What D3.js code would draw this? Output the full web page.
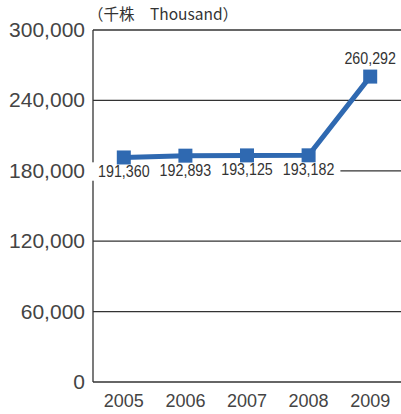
<!doctype html>
<html lang="ja">
<head>
<meta charset="UTF-8">
<title>千株</title>
<style>
    body { margin: 0; background: #fff; }
    svg { display: block; }
    .ytick { font-family: "Liberation Sans", Arial, sans-serif; font-size: 21px; fill: #444; }
    .xtick { font-family: "Liberation Sans", Arial, sans-serif; font-size: 18px; fill: #444; }
    .val { font-family: "Liberation Sans", Arial, sans-serif; font-size: 17px; fill: #333; }
    .unit { font-family: "Noto Sans CJK JP", sans-serif; font-size: 15.5px; fill: #333; }
</style>
</head>
<body>
<svg width="401" height="414"></svg>
<script src="https://cdn.jsdelivr.net/npm/d3@7/dist/d3.min.js"></script>
<script>
const years = ["2005", "2006", "2007", "2008", "2009"];
const shares = [191360, 192893, 193125, 193182, 260292];
const yTicks = [0, 60000, 120000, 180000, 240000, 300000];
const unitLabel = "（千株　Thousand）";

const svg = d3.select("svg"),
    margin = {top: 30, right: 0, bottom: 32, left: 93},
    width = +svg.attr("width") - margin.left - margin.right,
    height = +svg.attr("height") - margin.top - margin.bottom,
    g = svg.append("g").attr("transform", "translate(" + margin.left + "," + margin.top + ")");

const x = d3.scalePoint().domain(years).range([0, width]).padding(0.5);
const y = d3.scaleLinear().domain([0, 300000]).range([height, 0]);
const fmt = d3.format(",");

// grid lines
g.selectAll("line.grid").data(yTicks).enter().append("line")
    .attr("x1", 0).attr("x2", width)
    .attr("y1", d => y(d)).attr("y2", d => y(d))
    .attr("stroke", "#333").attr("stroke-width", 1.3);
g.append("line")
    .attr("x1", 0).attr("x2", 0).attr("y1", y(300000)).attr("y2", y(0))
    .attr("stroke", "#333").attr("stroke-width", 1.3);

// y tick labels
svg.selectAll("text.ytick").data(yTicks).enter().append("text")
    .attr("class", "ytick")
    .attr("x", margin.left - 8)
    .attr("y", d => margin.top + y(d) + 7)
    .attr("text-anchor", "end")
    .text(d => fmt(d));

// x tick labels
svg.selectAll("text.xtick").data(years).enter().append("text")
    .attr("class", "xtick")
    .attr("x", d => margin.left + x(d))
    .attr("y", 407)
    .attr("text-anchor", "middle")
    .text(d => d);

svg.append("text").attr("class", "unit")
    .attr("x", 88).attr("y", 20)
    .text(unitLabel);

const data = years.map((yr, i) => ({year: yr, v: shares[i]}));
const labY = (d, i) => i === data.length - 1 ? y(d.v) - 13 : y(d.v) + 20;
const squeeze = 0.84;

// white backing under value labels (hides grid line), then the line, markers, labels
const backs = g.append("g"), plot = g.append("g"), labs = g.append("g");

labs.selectAll("text").data(data).enter().append("text")
    .attr("class", "val")
    .attr("text-anchor", "middle")
    .attr("transform", (d, i) => "translate(" + x(d.year) + "," + labY(d, i) + ") scale(" + squeeze + ",1)")
    .text(d => fmt(d.v));

labs.selectAll("text").each(function(d, i) {
    const b = this.getBBox();
    const w = b.width * squeeze;
    backs.append("rect")
        .attr("x", x(d.year) - w / 2 - 6).attr("y", labY(d, i) + b.y)
        .attr("width", w + 12).attr("height", b.height)
        .attr("fill", "#fff");
});

const line = d3.line().x(d => x(d.year)).y(d => y(d.v));
plot.append("path")
    .datum(data)
    .attr("fill", "none")
    .attr("stroke", "#2f69b1")
    .attr("stroke-width", 5)
    .attr("d", line);
const s = 14;
plot.selectAll("rect").data(data).enter().append("rect")
    .attr("x", d => x(d.year) - s / 2)
    .attr("y", d => y(d.v) - s / 2)
    .attr("width", s).attr("height", s)
    .attr("fill", "#2f69b1");
</script>
</body>
</html>
